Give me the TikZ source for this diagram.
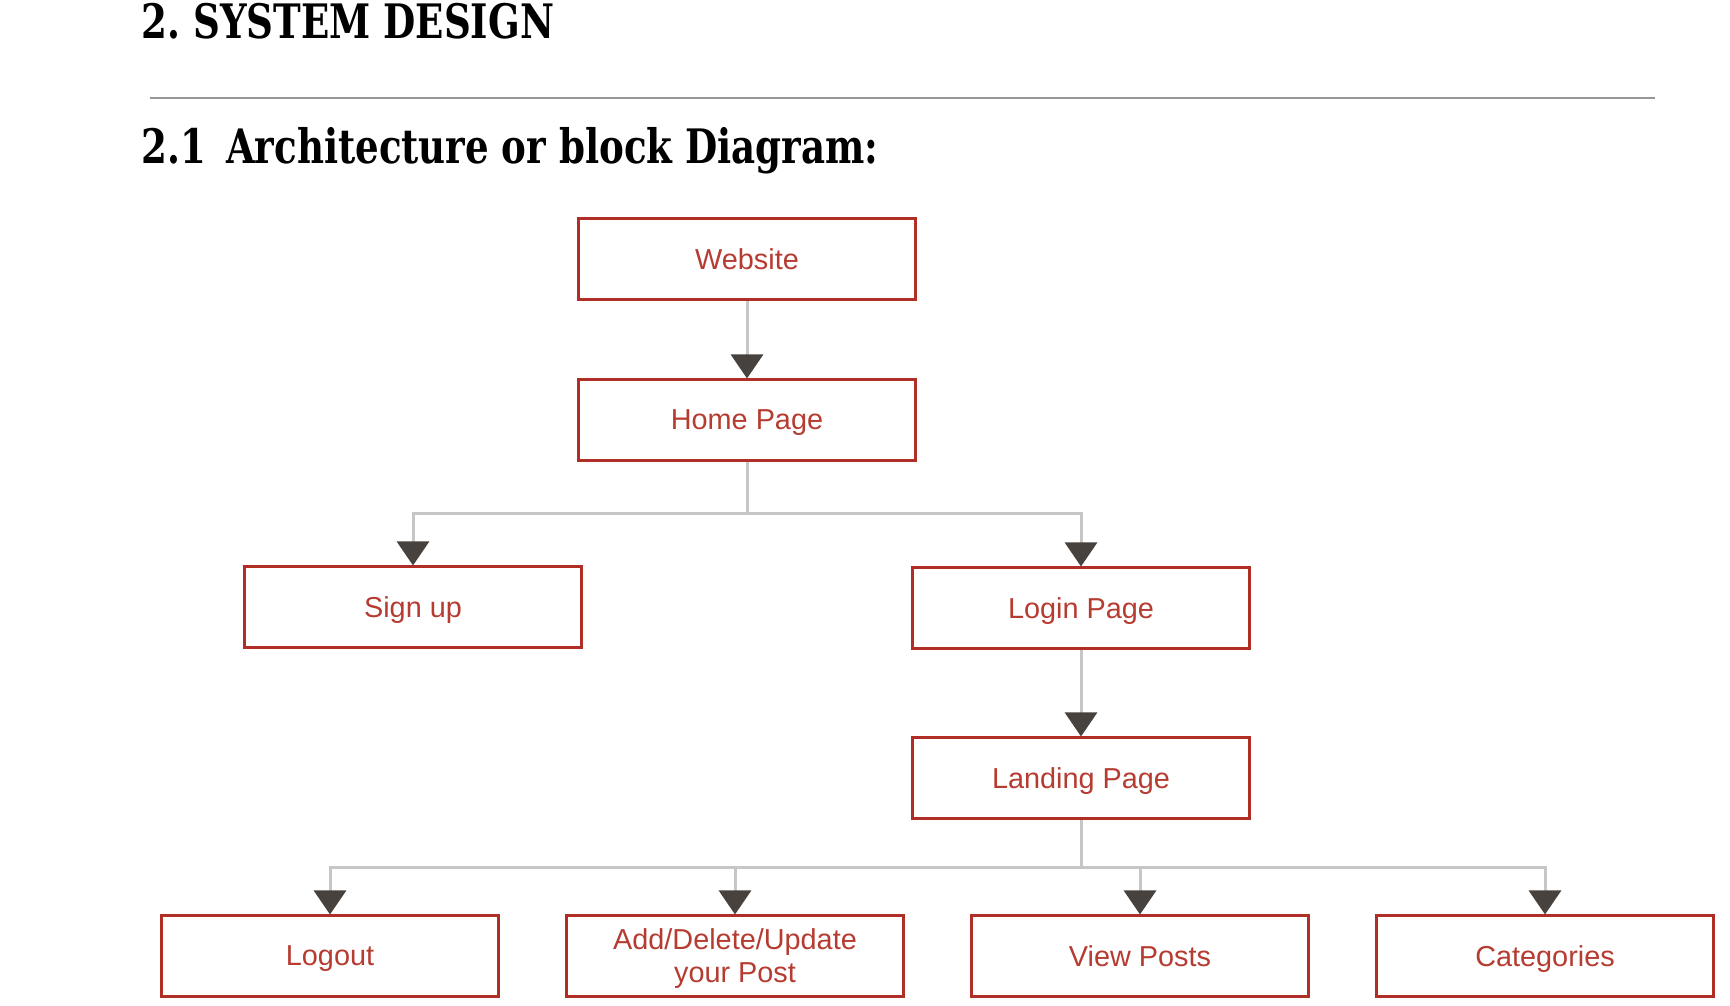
\documentclass[tikz,border=0pt]{standalone}
\usepackage{fontspec}
\setmainfont{Liberation Sans}
\newfontfamily\headfont{DejaVu Serif Condensed}
\usetikzlibrary{arrows.meta}
\definecolor{boxred}{RGB}{176,46,38}
\definecolor{txtred}{RGB}{182,60,50}
\definecolor{linkgray}{RGB}{198,198,198}
\definecolor{tipgray}{RGB}{72,66,62}
\definecolor{rulegray}{RGB}{150,150,150}
\begin{document}
\begin{tikzpicture}[x=0.01cm,y=-0.01cm,
  blk/.style={draw=boxred, line width=0.03cm, minimum width=3.36cm, minimum height=0.8cm,
    inner sep=0pt, align=center, text=txtred, text depth=0pt, font=\fontsize{8.2}{9.4}\selectfont},
  head/.style={anchor=base west, inner sep=0pt, xscale=0.87, transform shape,
    font=\headfont\bfseries\fontsize{13.5}{16}\selectfont},
  conn/.style={draw=linkgray, line width=0.03cm,
    -{Triangle[width=0.32cm, length=0.24cm, color=tipgray]}},
  trunk/.style={draw=linkgray, line width=0.03cm}]
\useasboundingbox[fill=white] (0,0) rectangle (1730,1006);
% headings
\node[head] (h1) at (141,38) {2.\ SYSTEM DESIGN};
\draw[rulegray, line width=0.02cm] (150,98) -- (1655,98);
\node[head] (h2) at (141,163) {2.1\, Architecture or block Diagram:};
% blocks
\node[blk] (web) at (747,259) {Website};
\node[blk] (home) at (747,420) {Home Page};
\node[blk] (signup) at (413,607) {Sign up};
\node[blk] (login) at (1081,608) {Login Page};
\node[blk] (land) at (1081,778) {Landing Page};
\node[blk] (logout) at (330,956) {Logout};
\node[blk] (post) at (735,956) {Add/Delete/Update\\your Post};
\node[blk] (view) at (1140,956) {View Posts};
\node[blk] (cat) at (1545,956) {Categories};
\coordinate (hsplit) at (747,513);
\coordinate (lsplit) at (1081,867);
% links
\draw[conn] (web) -- (home);
\draw[trunk] (home) -- (hsplit);
\draw[conn] (hsplit) -| (signup);
\draw[conn] (hsplit) -| (login);
\draw[conn] (login) -- (land);
\draw[trunk] (land) -- (lsplit);
\draw[conn] (lsplit) -| (logout);
\draw[conn] (lsplit) -| (post);
\draw[conn] (lsplit) -| (view);
\draw[conn] (lsplit) -| (cat);
\end{tikzpicture}
\end{document}
